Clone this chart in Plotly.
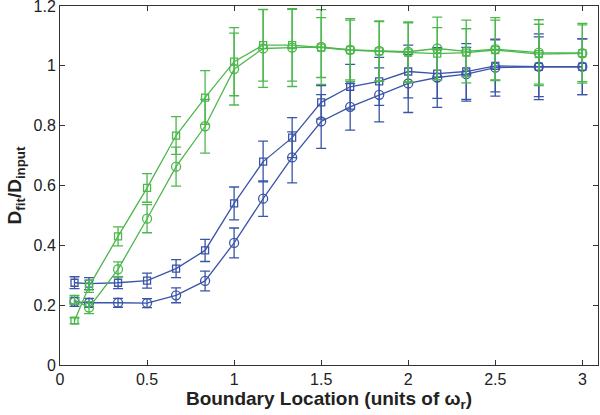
import plotly.graph_objects as go

x = [1/12, 2/12, 4/12, 6/12, 8/12, 10/12, 1.0, 14/12, 16/12, 1.5, 20/12, 22/12, 2.0, 26/12, 28/12, 2.5, 2.75, 3.0]

blue_sq = [0.275, 0.272, 0.275, 0.282, 0.322, 0.383, 0.54, 0.68, 0.76, 0.878, 0.93, 0.948, 0.981, 0.974, 0.981, 1.0, 0.997, 0.997]
blue_sq_err = [0.02, 0.02, 0.02, 0.025, 0.03, 0.037, 0.055, 0.068, 0.067, 0.056, 0.075, 0.08, 0.088, 0.083, 0.093, 0.087, 0.1, 0.093]

blue_ci = [0.211, 0.208, 0.208, 0.207, 0.233, 0.281, 0.408, 0.556, 0.694, 0.814, 0.863, 0.903, 0.941, 0.961, 0.972, 0.994, 0.997, 0.997]
blue_ci_err = [0.015, 0.015, 0.015, 0.015, 0.025, 0.033, 0.05, 0.059, 0.085, 0.09, 0.078, 0.09, 0.097, 0.1, 0.09, 0.095, 0.11, 0.093]

green_sq = [0.148, 0.263, 0.43, 0.592, 0.767, 0.894, 1.014, 1.069, 1.069, 1.061, 1.053, 1.048, 1.044, 1.041, 1.044, 1.053, 1.039, 1.042]
green_sq_err = [0.01, 0.02, 0.032, 0.048, 0.063, 0.09, 0.114, 0.12, 0.12, 0.1, 0.1, 0.1, 0.1, 0.087, 0.08, 0.1, 0.1, 0.095]

green_ci = [0.218, 0.192, 0.32, 0.489, 0.663, 0.798, 0.989, 1.058, 1.061, 1.063, 1.053, 1.05, 1.047, 1.058, 1.048, 1.056, 1.044, 1.042]
green_ci_err = [0.015, 0.02, 0.025, 0.047, 0.065, 0.09, 0.12, 0.13, 0.13, 0.125, 0.105, 0.1, 0.1, 0.105, 0.105, 0.105, 0.11, 0.1]

x_ticks = [0, 0.5, 1, 1.5, 2, 2.5, 3]
x_tick_labels = ["0", "0.5", "1", "1.5", "2", "2.5", "3"]
y_ticks = [0, 0.2, 0.4, 0.6, 0.8, 1.0, 1.2]
y_tick_labels = ["0", "0.2", "0.4", "0.6", "0.8", "1", "1.2"]

BLUE = "#3a54a8"
GREEN = "#4cb84c"

fig = go.Figure()

def add(yv, err, color, symbol, size):
    fig.add_trace(go.Scatter(
        x=x, y=yv, mode="lines+markers",
        line=dict(color=color, width=1.3),
        marker=dict(symbol=symbol, size=size, color=color,
                    line=dict(color=color, width=1.3)),
        error_y=dict(type="data", array=err, visible=True, color=color,
                     thickness=1.3, width=5),
        showlegend=False,
        cliponaxis=False,
    ))

add(blue_sq, blue_sq_err, BLUE, "square-open", 7)
add(blue_ci, blue_ci_err, BLUE, "circle-open", 9)
add(green_sq, green_sq_err, GREEN, "square-open", 7)
add(green_ci, green_ci_err, GREEN, "circle-open", 9)

FONT = "Liberation Sans, Arial"
axis_common = dict(
    showgrid=False, zeroline=False, showline=True, linecolor="#333333",
    linewidth=1, mirror="ticks", ticks="inside", ticklen=5,
    tickcolor="#333333", automargin=False, ticklabeloverflow="allow",
    tickfont=dict(family=FONT, size=16, color="#222222"),
)

fig.update_layout(
    width=600, height=415,
    margin=dict(l=60, r=2, t=6, b=50),
    plot_bgcolor="white", paper_bgcolor="white",
    xaxis=dict(range=[0, 3.09], tickvals=x_ticks, ticktext=x_tick_labels,
               title=dict(text="<b>Boundary Location (units of ω<sub>r</sub>)</b>",
                          font=dict(family=FONT, size=19, color="#222222"),
                          standoff=4),
               **axis_common),
    yaxis=dict(range=[0, 1.2], tickvals=y_ticks, ticktext=y_tick_labels,
               title=dict(text="<b>D<sub>fit</sub>/D<sub>input</sub></b>",
                          font=dict(family=FONT, size=19, color="#222222"),
                          standoff=6),
               **axis_common),
)

fig.write_html("out.html", config={"displayModeBar": False},
               post_script="document.body.style.margin='0';document.body.style.overflow='hidden';")
